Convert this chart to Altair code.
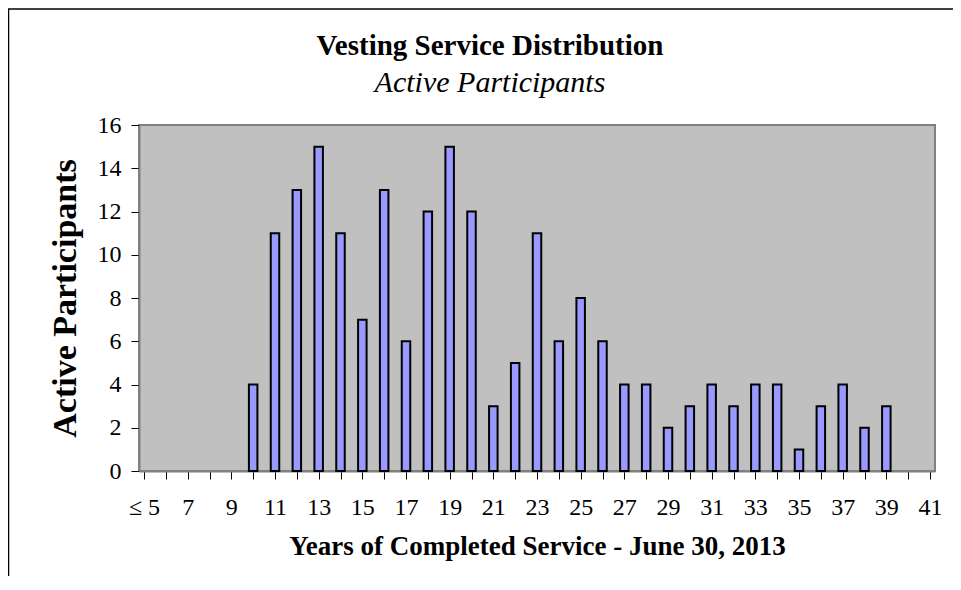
import altair as alt
import pandas as pd

years = list(range(10, 40))
participants = [4, 11, 13, 15, 11, 7, 13, 6, 12, 15, 12, 3, 5, 11, 6, 8, 6, 4, 4, 2,
                3, 4, 3, 4, 4, 1, 3, 4, 2, 3]
x_ticks = list(range(5, 42))
x_first_label = "≤ 5"
y_ticks = list(range(0, 17, 2))
title_text = ["Vesting Service Distribution"]
subtitle_text = ["Active Participants"]
x_title = "Years of Completed Service - June 30, 2013"
y_title = "Active Participants"

df = pd.DataFrame({"years": years, "participants": participants})

FONT = "Liberation Serif"
W, H = 796, 346
PL, PT, PR, PB = 131, 117, 18, 105

bars = alt.Chart(df).mark_bar(
    size=8.5, fill="#9999FF", stroke="black", strokeWidth=2
).encode(
    x=alt.X("years:Q",
            scale=alt.Scale(domain=[x_ticks[0], x_ticks[-1]], nice=False, zero=False),
            axis=alt.Axis(values=x_ticks,
                          labelExpr=f"datum.value == {x_ticks[0]} ? '{x_first_label}' : (datum.value % 2 == 1 ? datum.label : '')",
                          labelOverlap=False, grid=False,
                          title=x_title,
                          titleFont=FONT, titleFontSize=27, titleFontWeight="bold",
                          titlePadding=14,
                          labelFont=FONT, labelFontSize=24, labelPadding=16,
                          labelColor="black", titleColor="black",
                          tickColor="black", tickSize=8, tickWidth=1,
                          domainColor="#808080", domainWidth=2)),
    y=alt.Y("participants:Q",
            scale=alt.Scale(domain=[y_ticks[0], y_ticks[-1]], nice=False),
            axis=alt.Axis(values=y_ticks, grid=False,
                          title=y_title,
                          titleFont=FONT, titleFontSize=34, titleFontWeight="bold",
                          titlePadding=15,
                          labelFont=FONT, labelFontSize=24, labelPadding=10,
                          labelColor="black", titleColor="black",
                          tickColor="black", tickSize=8, tickWidth=1,
                          domainColor="#808080", domainWidth=2)),
)

title_mark = alt.Chart(alt.Data(values=[{"t": t} for t in title_text])).mark_text(
    font=FONT, fontSize=29, fontWeight="bold", color="black", align="center", baseline="alphabetic"
).encode(text="t:N", x=alt.value(351), y=alt.value(-70))

subtitle_mark = alt.Chart(alt.Data(values=[{"t": t} for t in subtitle_text])).mark_text(
    font=FONT, fontSize=30, fontStyle="italic", color="black", align="center", baseline="alphabetic"
).encode(text="t:N", x=alt.value(351), y=alt.value(-33))

frame_data = alt.Data(values=[{}])
left_rule = alt.Chart(frame_data).mark_rule(color="black", strokeWidth=1.5).encode(
    x=alt.value(-130.5), y=alt.value(-116), y2=alt.value(H + PB))
top_rule = alt.Chart(frame_data).mark_rule(color="black", strokeWidth=1.5).encode(
    y=alt.value(-116), x=alt.value(-131), x2=alt.value(W + PR))

chart = alt.layer(bars, title_mark, subtitle_mark, left_rule, top_rule).properties(
    width=W, height=H,
    autosize=alt.AutoSizeParams(type="none"),
    padding={"left": PL, "top": PT, "right": PR, "bottom": PB},
).configure_view(fill="#C0C0C0", stroke="#808080", strokeWidth=2)

chart.save("out.html", embed_options={"renderer": "svg", "actions": False})
